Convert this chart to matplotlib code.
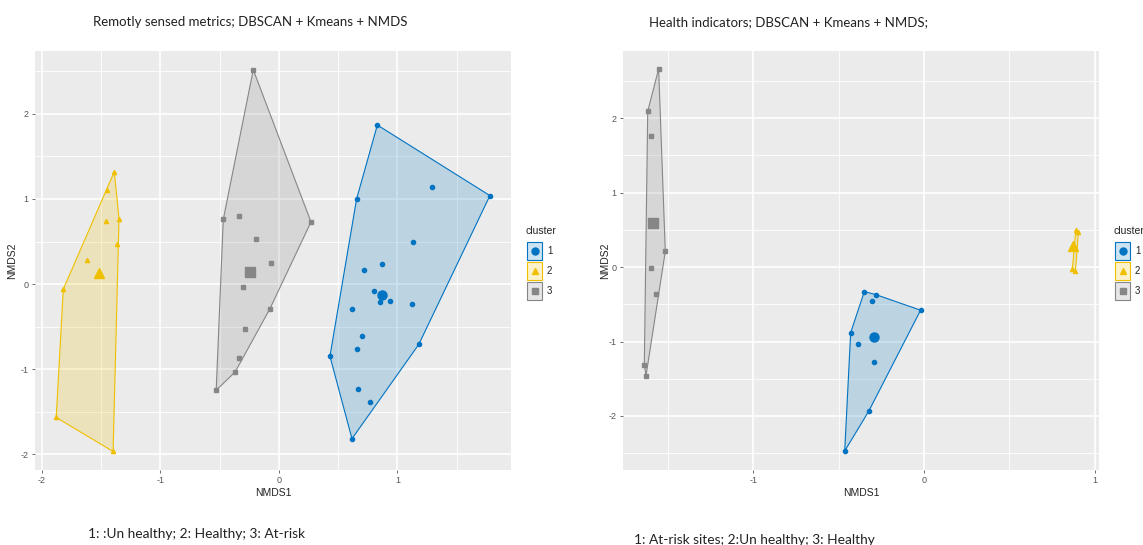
import matplotlib
matplotlib.use("Agg")
import matplotlib.pyplot as plt
from matplotlib.patches import Rectangle, Polygon
from matplotlib.lines import Line2D
import numpy as np

# ---- data: NMDS scores per cluster ------------------------------------
# Panel A: remotely sensed metrics
a_c1_x = [0.83, 1.78, 0.655, 1.29, 1.13, 0.87, 0.715, 0.80, 0.85, 0.94, 1.125, 0.616,
          0.70, 0.655, 0.43, 1.18, 0.67, 0.77, 0.616]
a_c1_y = [1.87, 1.04, 1.00, 1.14, 0.49, 0.23, 0.16, -0.08, -0.21, -0.20, -0.23, -0.29,
          -0.61, -0.77, -0.85, -0.71, -1.24, -1.39, -1.82]
a_c2_x = [-1.39, -1.45, -1.46, -1.35, -1.37, -1.62, -1.82, -1.88, -1.40]
a_c2_y = [1.32, 1.11, 0.745, 0.77, 0.47, 0.28, -0.06, -1.57, -1.97]
a_c3_x = [-0.217, -0.47, -0.34, -0.19, -0.065, 0.27, -0.30, -0.076, -0.29, -0.335, -0.37, -0.53]
a_c3_y = [2.52, 0.76, 0.80, 0.53, 0.25, 0.73, -0.03, -0.29, -0.53, -0.87, -1.035, -1.25]
a_centers_x = [0.87, -1.52, -0.245]
a_centers_y = [-0.125, 0.125, 0.14]

# Panel B: health indicators
b_c1_x = [-0.35, -0.283, -0.306, -0.02, -0.43, -0.387, -0.295, -0.324, -0.465]
b_c1_y = [-0.33, -0.37, -0.46, -0.58, -0.88, -1.04, -1.28, -1.935, -2.47]
b_c2_x = [0.89, 0.905, 0.87, 0.888]
b_c2_y = [0.50, 0.47, -0.025, -0.055]
b_c3_x = [-1.556, -1.62, -1.60, -1.517, -1.60, -1.57, -1.64, -1.63]
b_c3_y = [2.66, 2.09, 1.765, 0.21, -0.015, -0.36, -1.31, -1.46]
b_centers_x = [-0.295, 0.872, -1.59]
b_centers_y = [-0.94, 0.28, 0.59]

cluster_labels = ["1", "2", "3"]
titles = ["Remotly sensed metrics; DBSCAN + Kmeans + NMDS",
          "Health indicators; DBSCAN + Kmeans + NMDS;"]
captions = ["1: :Un healthy; 2: Healthy; 3: At-risk",
            "1: At-risk sites; 2:Un healthy; 3: Healthy"]
x_ticks = [[-2, -1, 0, 1], [-1, 0, 1]]
y_ticks = [[-2, -1, 0, 1, 2], [-2, -1, 0, 1, 2]]

# ---- styling ----------------------------------------------------------
colors = ["#0073C2", "#EFC000", "#868686"]
markers = ["o", "^", "s"]
panel_bg = "#EBEBEB"
narrow = ["Liberation Sans Narrow", "Liberation Sans", "DejaVu Sans"]
caption_font = ["Lato", "DejaVu Sans"]

W, H = 1143, 545
fig = plt.figure(figsize=(W / 100, H / 100), dpi=100)
fig.patch.set_facecolor("white")


def fx(px):
    return px / W


def fy(py):
    return 1 - py / H


def convex_hull(xs, ys):
    pts = sorted(set(zip(xs, ys)))
    if len(pts) < 3:
        return pts

    def cross(o, a, b):
        return (a[0] - o[0]) * (b[1] - o[1]) - (a[1] - o[1]) * (b[0] - o[0])

    lower, upper = [], []
    for p in pts:
        while len(lower) >= 2 and cross(lower[-2], lower[-1], p) <= 0:
            lower.pop()
        lower.append(p)
    for p in reversed(pts):
        while len(upper) >= 2 and cross(upper[-2], upper[-1], p) <= 0:
            upper.pop()
        upper.append(p)
    return lower[:-1] + upper[:-1]


panels = [
    dict(rect=(35, 51, 511, 470), xlim=(-2.059, 1.958), ylim=(-2.188, 2.741),
         groups=[(a_c1_x, a_c1_y), (a_c2_x, a_c2_y), (a_c3_x, a_c3_y)],
         cx=a_centers_x, cy=a_centers_y,
         legend_x=526, title_x=93, cap_x=88, cap_y=534, ylab_x=12),
    dict(rect=(623, 51, 1099, 470), xlim=(-1.765, 1.026), ylim=(-2.725, 2.90),
         groups=[(b_c1_x, b_c1_y), (b_c2_x, b_c2_y), (b_c3_x, b_c3_y)],
         cx=b_centers_x, cy=b_centers_y,
         legend_x=1114, title_x=649, cap_x=634, cap_y=540, ylab_x=605),
]

for i, p in enumerate(panels):
    x0, y0, x1, y1 = p["rect"]
    ax = fig.add_axes([fx(x0), fy(y1), fx(x1 - x0), (y1 - y0) / H])
    ax.set_facecolor(panel_bg)
    for s in ax.spines.values():
        s.set_visible(False)
    ax.set_xlim(*p["xlim"])
    ax.set_ylim(*p["ylim"])

    # ggplot-like grid: major and minor white lines
    xt = np.arange(np.ceil(p["xlim"][0] * 2) / 2, p["xlim"][1], 0.5)
    yt = np.arange(np.ceil(p["ylim"][0] * 2) / 2, p["ylim"][1], 0.5)
    for v in xt:
        major = abs(v - round(v)) < 1e-9
        ax.axvline(v, color="white", lw=1.2 if major else 0.6, zorder=0)
    for v in yt:
        major = abs(v - round(v)) < 1e-9
        ax.axhline(v, color="white", lw=1.2 if major else 0.6, zorder=0)

    ax.set_xticks(x_ticks[i])
    ax.set_yticks(y_ticks[i])
    ax.set_xticklabels([str(t) for t in x_ticks[i]])
    ax.set_yticklabels([str(t) for t in y_ticks[i]])
    ax.tick_params(length=2.5, width=0.6, color="#555555", labelcolor="#555555",
                   labelsize=6.5, pad=2)
    for lab in ax.get_xticklabels() + ax.get_yticklabels():
        lab.set_family(narrow)

    for k, (gx, gy) in enumerate(p["groups"]):
        hull = convex_hull(gx, gy)
        ax.add_patch(Polygon(hull, closed=True, facecolor=colors[k], alpha=0.2,
                             edgecolor="none", zorder=2))
        ax.add_patch(Polygon(hull, closed=True, facecolor="none",
                             edgecolor=colors[k], lw=0.8, zorder=3))
        ax.plot(gx, gy, linestyle="none", marker=markers[k], ms=3.0,
                color=colors[k], mec=colors[k], zorder=4)
        ax.plot([p["cx"][k]], [p["cy"][k]], linestyle="none", marker=markers[k],
                ms=6.5, color=colors[k], zorder=5)

    ax.set_xlabel("NMDS1", fontsize=7.5, family=narrow, color="#222222", labelpad=2)
    fig.text(fx(p["ylab_x"]), fy((y0 + y1) / 2), "NMDS2", rotation=90, fontsize=7.5,
             family=narrow, color="#222222", ha="center", va="center")

    # titles above and captions below each panel
    fig.text(fx(p["title_x"]), fy(22), titles[i], fontsize=9.5, family=caption_font,
             color="#222222", ha="left", va="center")
    fig.text(fx(p["cap_x"]), fy(p["cap_y"]), captions[i], fontsize=9.9,
             family=caption_font, color="#222222", ha="left", va="center")

    # legend: fill box with outline plus point symbol
    lx = p["legend_x"]
    fig.text(fx(lx), fy(231), "cluster", fontsize=7.5, family=narrow,
             color="#222222", ha="left", va="center")
    for k in range(3):
        cy_px = 251 + 20 * k
        fig.add_artist(Rectangle((fx(lx + 1), fy(cy_px + 9)), fx(15), 18 / H,
                                 transform=fig.transFigure, facecolor=colors[k],
                                 alpha=0.2, edgecolor="none"))
        fig.add_artist(Rectangle((fx(lx + 1), fy(cy_px + 9)), fx(15), 18 / H,
                                 transform=fig.transFigure, facecolor="none",
                                 edgecolor=colors[k], lw=0.8))
        fig.add_artist(Line2D([fx(lx + 8.5)], [fy(cy_px)], transform=fig.transFigure,
                              marker=markers[k], ms=5, color=colors[k],
                              linestyle="none"))
        fig.text(fx(lx + 21), fy(cy_px), cluster_labels[k], fontsize=7,
                 family=narrow, color="#222222", ha="left", va="center")

fig.savefig("out.png", dpi=100)
